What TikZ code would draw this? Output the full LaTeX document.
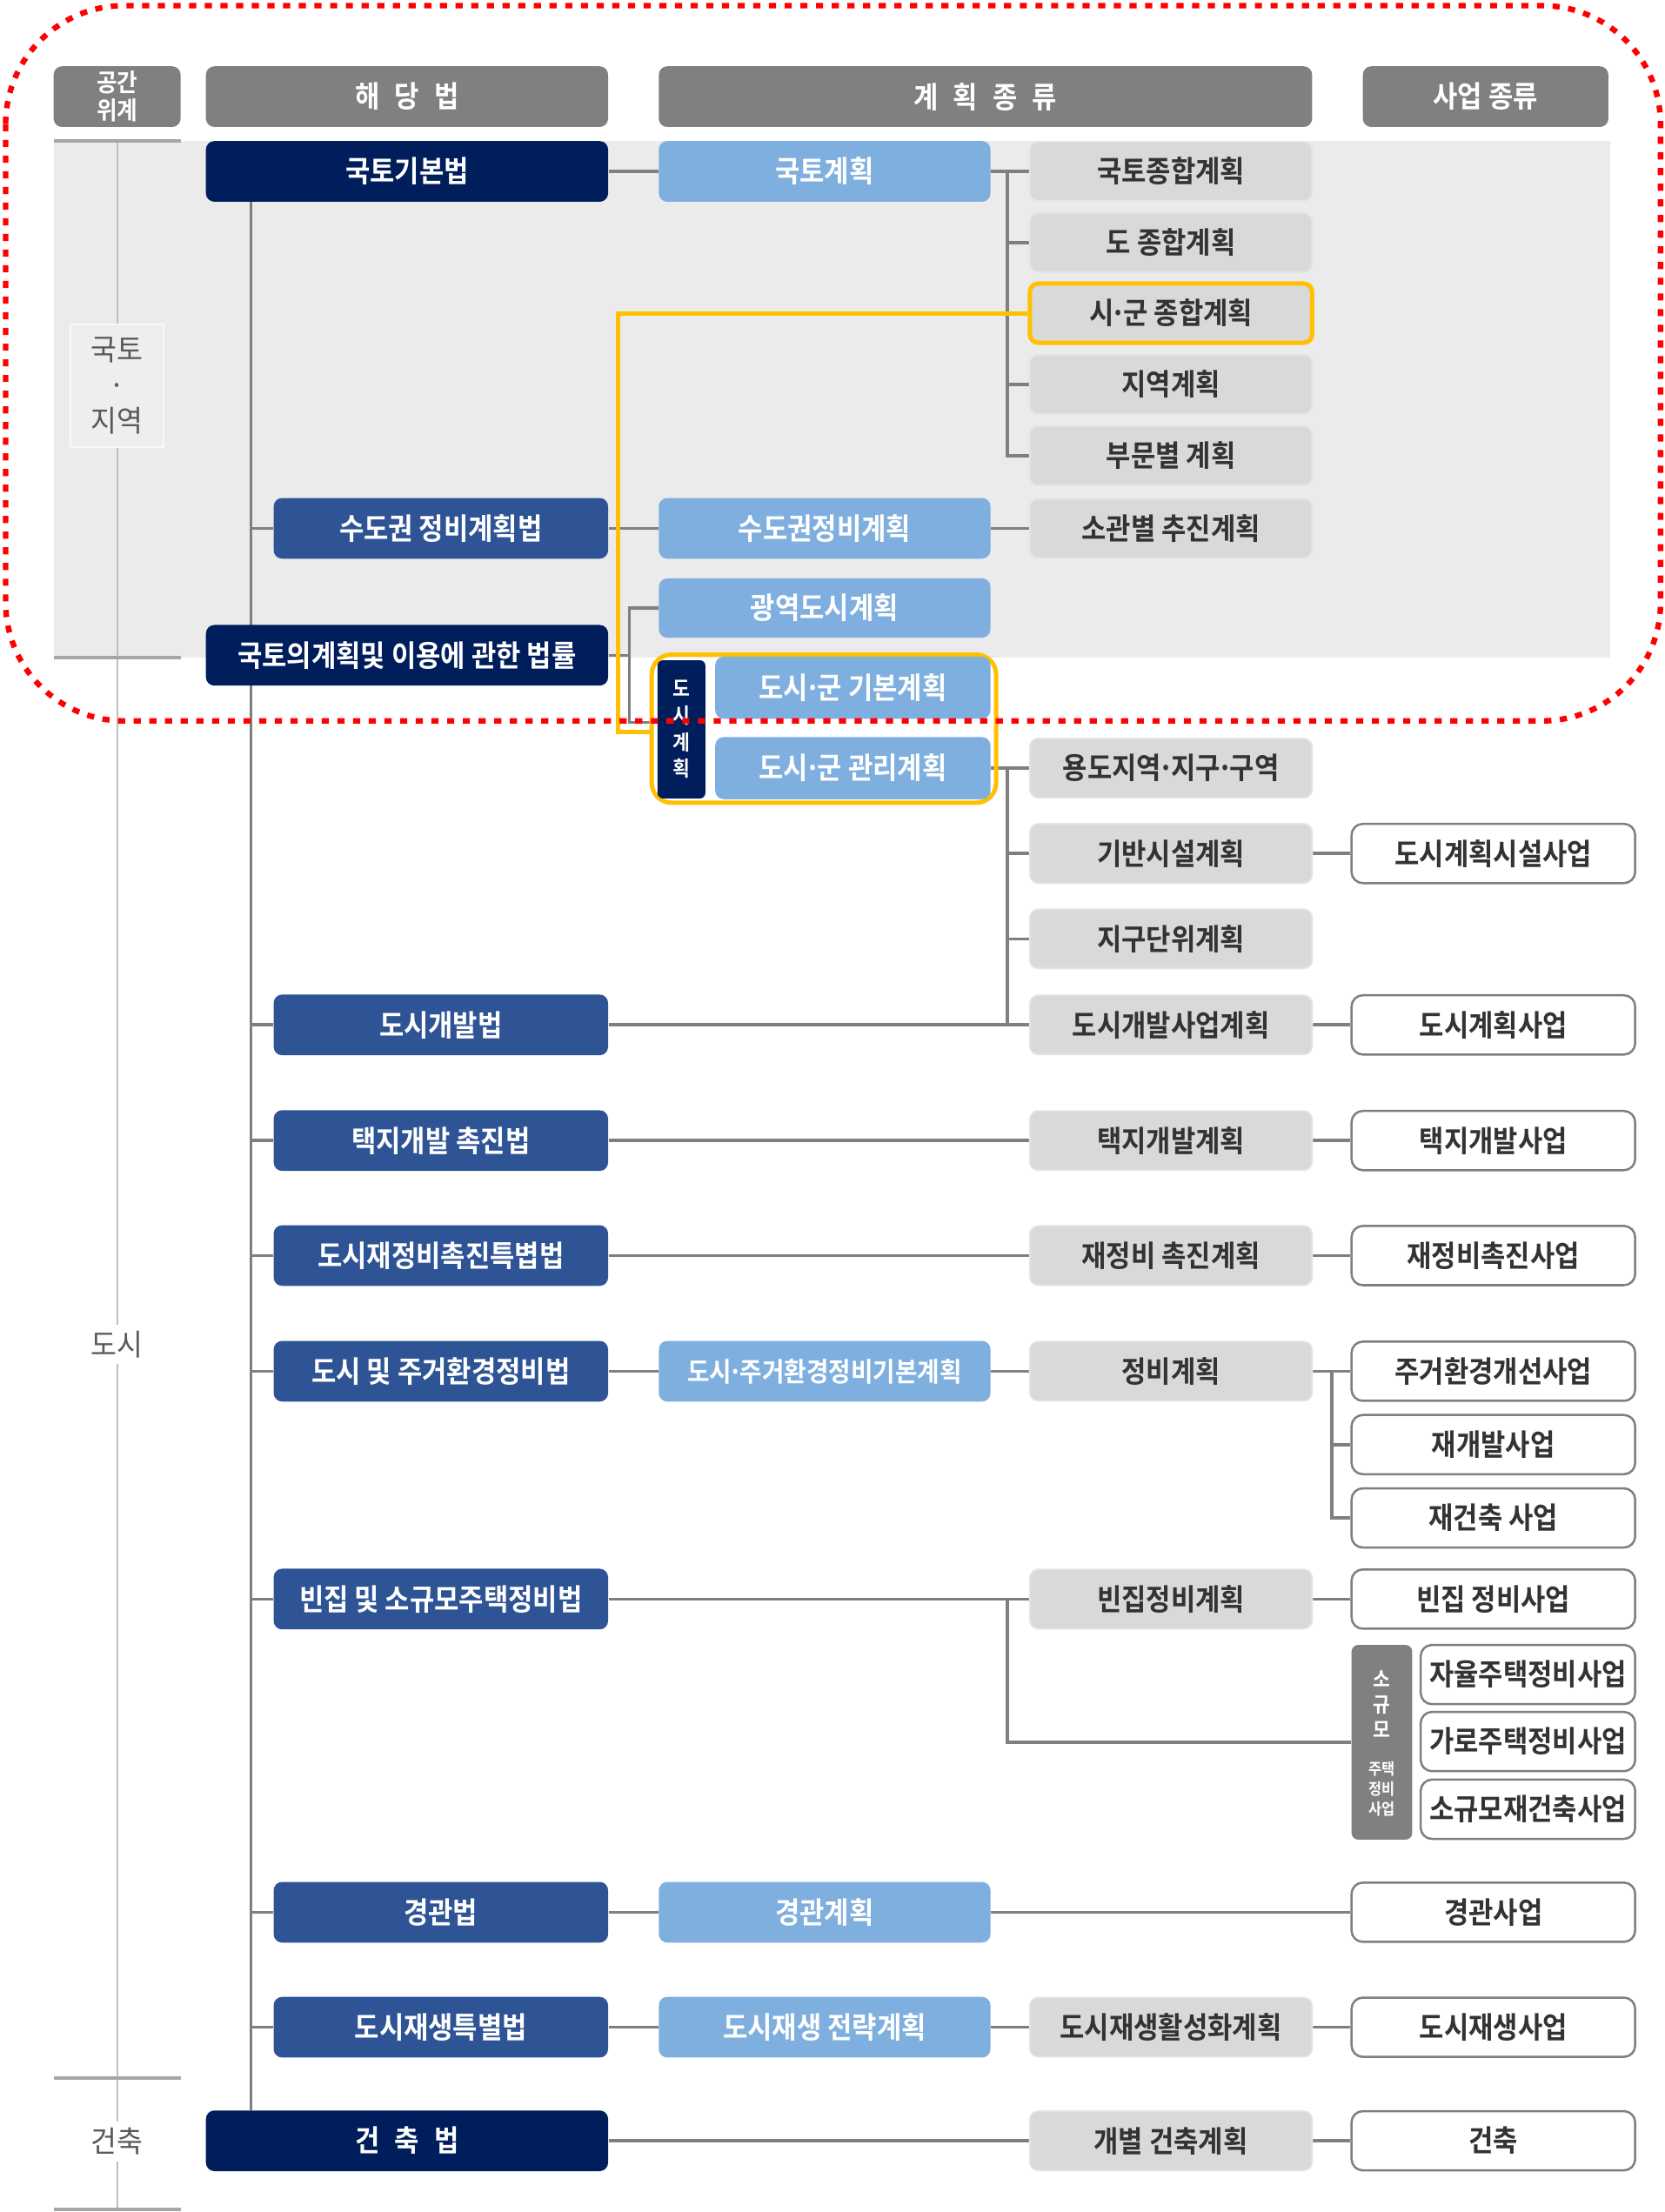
\documentclass[tikz,border=0pt]{standalone}
\usepackage{fontspec}
\newfontfamily\krb{Noto Sans CJK KR Bold}[FakeStretch=0.9]
\newfontfamily\kr{Noto Sans CJK KR}[FakeStretch=0.95]
\newcommand\mdot{\hbox to 0.32em{\hss·\hss}}
\pgfdeclarelayer{bgl}
\pgfdeclarelayer{lines}
\pgfsetlayers{bgl,lines,main}
\definecolor{navy}{HTML}{001E5C}
\definecolor{midblue}{HTML}{2E5496}
\definecolor{ltblue}{HTML}{7FAFDF}
\definecolor{gbox}{HTML}{D9D9D9}
\definecolor{gbd}{HTML}{E4E4E4}
\definecolor{wbd}{HTML}{7F7F7F}
\definecolor{hdr}{HTML}{808080}
\definecolor{lnc}{HTML}{7F7F7F}
\definecolor{ybd}{HTML}{FFC000}
\definecolor{bgg}{HTML}{EBEBEB}
\definecolor{txt}{HTML}{333333}
\definecolor{sidec}{HTML}{BFBFBF}
\definecolor{sepc}{HTML}{A6A6A6}
\definecolor{sidetxt}{HTML}{595959}
\definecolor{kfill}{HTML}{EEEEEE}
\definecolor{kbd}{HTML}{F8F8F8}
\definecolor{redd}{HTML}{FF0000}
\begin{document}
\begin{tikzpicture}[x=0.025cm,y=-0.025cm,
  base/.style={rounded corners=0.15cm, inner sep=0pt, minimum height=1.075cm, align=center, font=\krb\fontsize{15}{17}\selectfont},
  navybox/.style={base, fill=navy, text=white, minimum width=7.125cm},
  midbox/.style={base, fill=midblue, text=white, minimum width=5.925cm},
  ltbox/.style={base, fill=ltblue, text=white, minimum width=5.875cm},
  graybox/.style={base, fill=gbox, draw=gbd, line width=0.8pt, text=txt, minimum width=5cm, minimum height=1.05cm},
  whitebox/.style={base, fill=white, draw=wbd, line width=1.1pt, text=txt, minimum width=5.025cm, minimum height=1.05cm, rounded corners=0.2cm},
  smallwhite/.style={whitebox, minimum width=3.8cm},
  hdrbox/.style={base, fill=hdr, text=white, font=\krb\fontsize{15}{17}\selectfont},
  conn/.style={draw=lnc, line width=1.6pt},
  trunkline/.style={draw=lnc, line width=1.2pt},
  yline/.style={draw=ybd, line width=2.2pt},
  sideline/.style={draw=sidec, line width=0.9pt},
  sepline/.style={draw=sepc, line width=1.8pt},
  sidelbl/.style={inner sep=3pt, font=\kr\fontsize{15}{18}\selectfont, text=sidetxt, align=center},
]
\useasboundingbox (0,0) rectangle (1180,1568);
\begin{pgfonlayer}{bgl}
\fill[white] (0,0) rectangle (1180,1568);
\fill[bgg] (38,100) rectangle (1141,466);
\end{pgfonlayer}

% headers
\node[hdrbox, minimum width=2.25cm, font=\krb\fontsize{12.5}{14}\selectfont] (h1) at (83,68.5) {공간\\위계};
\node[hdrbox, minimum width=7.125cm] (h2) at (288.5,68.5) {해\enspace 당\enspace 법};
\node[hdrbox, minimum width=11.575cm] (h3) at (698.5,68.5) {계\enspace 획\enspace 종\enspace 류};
\node[hdrbox, minimum width=4.35cm] (h4) at (1053,68.5) {사업 종류};

% side labels
\node[sidelbl, fill=kfill, draw=kbd, line width=0.8pt, minimum width=1.65cm, minimum height=2.175cm] (kt) at (83,273.5) {국토\\·\\지역};
\node[sidelbl, fill=white] (ds) at (83,953) {도시};
\node[sidelbl, fill=white] (gk) at (83,1518) {건축};

% national level
\node[navybox] (l1) at (288.5,121.5) {국토기본법};
\node[ltbox] (p1) at (584.5,121.5) {국토계획};
\node[graybox] (g1) at (830,121.5) {국토종합계획};
\node[graybox] (g2) at (830,172) {도 종합계획};
\node[graybox, draw=ybd, line width=2.2pt] (g3) at (830,222) {시\mdot 군 종합계획};
\node[graybox] (g4) at (830,272.5) {지역계획};
\node[graybox] (g5) at (830,323) {부문별 계획};
\node[midbox] (l2) at (312.5,374.5) {수도권 정비계획법};
\node[ltbox] (p2) at (584.5,374.5) {수도권정비계획};
\node[graybox] (g6) at (830,374.5) {소관별 추진계획};
\node[ltbox, minimum height=1.05cm] (p3) at (584.5,431) {광역도시계획};
\node[navybox] (l3) at (288.5,464.5) {국토의계획및 이용에 관한 법률};

% city plan group
\node[draw=ybd, line width=2.2pt, rounded corners=0.35cm, minimum width=6.1cm, minimum height=2.625cm, inner sep=0pt] (yg) at (584,516.5) {};
\node[fill=navy, rounded corners=0.1cm, minimum width=0.85cm, minimum height=2.45cm, inner sep=0pt, text=white, align=center, font=\krb\fontsize{10.5}{13.5}\selectfont] (dl) at (483,517) {도\\시\\계\\획};
\node[ltbox, minimum width=4.875cm, minimum height=1.1cm] (p4) at (604.5,487.5) {도시\mdot 군 기본계획};
\node[ltbox, minimum width=4.875cm, minimum height=1.1cm] (p5) at (604.5,544.5) {도시\mdot 군 관리계획};

\node[graybox] (g7) at (830,544.5) {용도지역\mdot 지구\mdot 구역};
\node[graybox] (g8) at (830,605) {기반시설계획};
\node[whitebox] (w1) at (1058.5,605) {도시계획시설사업};
\node[graybox] (g9) at (830,665.5) {지구단위계획};
\node[midbox] (l4) at (312.5,726.5) {도시개발법};
\node[graybox] (g10) at (830,726.5) {도시개발사업계획};
\node[whitebox] (w2) at (1058.5,726.5) {도시계획사업};
\node[midbox] (l5) at (312.5,808.5) {택지개발 촉진법};
\node[graybox] (g11) at (830,808.5) {택지개발계획};
\node[whitebox] (w3) at (1058.5,808.5) {택지개발사업};
\node[midbox] (l6) at (312.5,890) {도시재정비촉진특볍법};
\node[graybox] (g12) at (830,890) {재정비 촉진계획};
\node[whitebox] (w4) at (1058.5,890) {재정비촉진사업};
\node[midbox] (l7) at (312.5,972) {도시 및 주거환경정비법};
\node[ltbox, font=\krb\fontsize{13.5}{16}\selectfont] (p6) at (584.5,972) {도시\mdot 주거환경정비기본계획};
\node[graybox] (g13) at (830,972) {정비계획};
\node[whitebox] (w5) at (1058.5,972) {주거환경개선사업};
\node[whitebox] (w6) at (1058.5,1024) {재개발사업};
\node[whitebox] (w7) at (1058.5,1076) {재건축 사업};
\node[midbox] (l8) at (312.5,1133.5) {빈집 및 소규모주택정비법};
\node[graybox] (g14) at (830,1133.5) {빈집정비계획};
\node[whitebox] (w8) at (1058.5,1133.5) {빈집 정비사업};
\node[fill=hdr, rounded corners=0.12cm, minimum width=1.075cm, minimum height=3.45cm, inner sep=0pt] (sl) at (979.5,1235) {};
\node[text=white, align=center, inner sep=0pt, font=\krb\fontsize{10.5}{12.8}\selectfont] (slt1) at (979.5,1208) {소\\규\\모};
\node[text=white, align=center, inner sep=0pt, font=\krb\fontsize{8}{10}\selectfont] (slt2) at (979.5,1268) {주택\\정비\\사업};
\node[smallwhite] (w9) at (1083,1187) {자율주택정비사업};
\node[smallwhite] (w10) at (1083,1234.5) {가로주택정비사업};
\node[smallwhite] (w11) at (1083,1282.5) {소규모재건축사업};
\node[midbox] (l9) at (312.5,1355.5) {경관법};
\node[ltbox] (p7) at (584.5,1355.5) {경관계획};
\node[whitebox] (w12) at (1058.5,1355.5) {경관사업};
\node[midbox] (l10) at (312.5,1437) {도시재생특별법};
\node[ltbox] (p8) at (584.5,1437) {도시재생 전략계획};
\node[graybox] (g15) at (830,1437) {도시재생활성화계획};
\node[whitebox] (w13) at (1058.5,1437) {도시재생사업};
\node[navybox] (l11) at (288.5,1517.5) {건\enspace 축\enspace 법};
\node[graybox] (g16) at (830,1517.5) {개별 건축계획};
\node[whitebox] (w14) at (1058.5,1517.5) {건축};

\coordinate (tx) at (178,0);
\coordinate (bx1) at (714,0);
\coordinate (bx2) at (944,0);
\coordinate (yc) at (438,519);
\coordinate (gc) at (446,512);

\begin{pgfonlayer}{lines}
% side column
\draw[sideline] (83,100) -- (kt.north);
\draw[sideline] (kt.south) -- (ds.north);
\draw[sideline] (ds.south) -- (gk.north);
\draw[sideline] (gk.south) -- (83,1566);
\draw[sepline] (38,100) -- (128,100);
\draw[sepline] (38,466) -- (128,466);
\draw[sepline] (38,1473) -- (128,1473);
\draw[sepline] (38,1566) -- (128,1566);
% trunk
\draw[trunkline] (l1.south -| tx) -- (l11.north -| tx);
\foreach \n in {l2,l4,l5,l6,l7,l8,l9,l10} \draw[conn] (\n.west -| tx) -- (\n.west);
% national
\draw[conn] (l1.east) -- (p1.west);
\draw[conn] (p1.east) -- (g1.west);
\draw[conn] (p1.east -| bx1) |- (g5.west);
\foreach \n in {g2,g3,g4} \draw[conn] (\n.west -| bx1) -- (\n.west);
\draw[conn] (l2.east) -- (p2.west);
\draw[conn] (p2.east) -- (g6.west);
\draw[conn] (l3.east) -- (l3.east -| gc);
\draw[conn] (p3.west) -| (gc) -- (gc -| yg.west);
\draw[yline] (g3.west) -| (yc) -- (yc -| yg.west);
% city
\draw[conn] (p5.east) -- (g7.west);
\draw[conn] (g7.west -| bx1) -- (g10.west -| bx1);
\foreach \n in {g8,g9} \draw[conn] (\n.west -| bx1) -- (\n.west);
\draw[conn] (g8.east) -- (w1.west);
\draw[conn] (l4.east) -- (g10.west);
\draw[conn] (g10.east) -- (w2.west);
\draw[conn] (l5.east) -- (g11.west);
\draw[conn] (g11.east) -- (w3.west);
\draw[conn] (l6.east) -- (g12.west);
\draw[conn] (g12.east) -- (w4.west);
\draw[conn] (l7.east) -- (p6.west);
\draw[conn] (p6.east) -- (g13.west);
\draw[conn] (g13.east) -- (w5.west);
\draw[conn] (g13.east -| bx2) |- (w7.west);
\draw[conn] (w6.west -| bx2) -- (w6.west);
\draw[conn] (l8.east) -- (g14.west);
\draw[conn] (g14.east) -- (w8.west);
\draw[conn] (l8.east -| bx1) |- (sl.west);
\draw[conn] (l9.east) -- (p7.west);
\draw[conn] (p7.east) -- (w12.west);
\draw[conn] (l10.east) -- (p8.west);
\draw[conn] (p8.east) -- (g15.west);
\draw[conn] (g15.east) -- (w13.west);
\draw[conn] (l11.east) -- (g16.west);
\draw[conn] (g16.east) -- (w14.west);
\end{pgfonlayer}

% red dotted frame
\draw[redd, line width=2.8pt, dash pattern=on 3.6pt off 4.3pt, rounded corners=2.1cm] (4,4) rectangle (1177,511);
\end{tikzpicture}
\end{document}
